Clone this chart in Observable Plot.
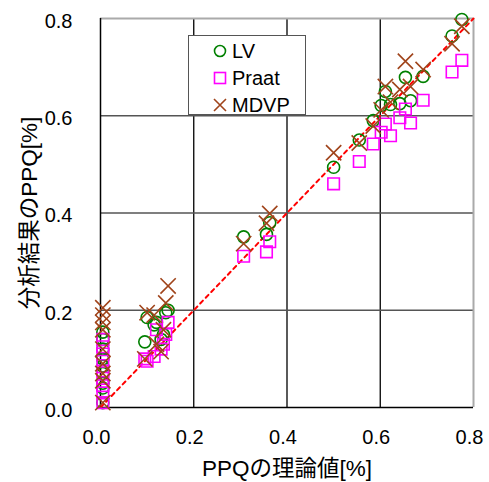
<!DOCTYPE html>
<html>
<head>
<meta charset="utf-8">
<script src="https://cdn.jsdelivr.net/npm/d3@7"></script>
<script src="https://cdn.jsdelivr.net/npm/@observablehq/plot@0.6"></script>
<style>
  html, body { margin: 0; padding: 0; background: #fff; }
  #wrap { position: relative; width: 489px; height: 482px; font-family: "Liberation Sans", "Noto Sans CJK JP", sans-serif; }
  #legend { position: absolute; left: 188px; top: 35px; width: 118px; height: 80px; border: 1px solid #555; background: #fff; box-sizing: border-box; font-size: 20px; }
  #legend .row { position: absolute; left: 24px; height: 26px; display: flex; align-items: center; }
  #legend svg { margin-right: 5px; }
</style>
</head>
<body>
<div id="wrap"><div id="chart"></div><div id="legend"></div></div>
<script>
// Theoretical PPQ [%] per sample
const xTheory = [
  0.005, 0.005, 0.005, 0.005, 0.005, 0.005, 0.005, 0.005, 0.005,
  0.095, 0.10, 0.115, 0.12, 0.13, 0.135, 0.14, 0.145,
  0.307, 0.356, 0.363,
  0.50, 0.555, 0.585, 0.602, 0.611, 0.622, 0.642, 0.654, 0.665, 0.692, 0.754, 0.775
];
// Analysed PPQ [%] per method
const lv = [
  0.155, 0.14, 0.12, 0.10, 0.085, 0.07, 0.05, 0.04, 0.01,
  0.135, 0.185, 0.17, 0.175, 0.14, 0.15, 0.195, 0.20,
  0.351, 0.356, 0.38,
  0.494, 0.55, 0.59, 0.621, 0.65, 0.623, 0.625, 0.679, 0.631, 0.681, 0.764, 0.798
];
const praat = [
  0.14, 0.125, 0.11, 0.095, 0.075, 0.06, 0.045, 0.03, 0.01,
  0.10, 0.095, 0.105, 0.16, 0.12, 0.13, 0.15, 0.175,
  0.311, 0.32, 0.341,
  0.46, 0.506, 0.542, 0.566, 0.583, 0.559, 0.596, 0.614, 0.585, 0.632, 0.69, 0.714
];
const mdvp = [
  0.205, 0.19, 0.175, 0.16, 0.12, 0.09, 0.07, 0.055, 0.01,
  0.10, 0.195, 0.19, 0.13, 0.115, 0.16, 0.215, 0.25,
  0.337, 0.379, 0.399,
  0.524, 0.544, 0.579, 0.612, 0.66, 0.628, 0.654, 0.712, 0.66, 0.695, 0.748, 0.784
];
const series = ["LV", "Praat", "MDVP"];
const gridTicks = [0.2, 0.4, 0.6];
const axisTicks = [0, 0.2, 0.4, 0.6, 0.8];
const diag = [0, 0.8];

const colors = {LV: "#008000", Praat: "#ff00ff", MDVP: "#a0441b"};
const valuesBy = {LV: lv, Praat: praat, MDVP: mdvp};
const data = series.flatMap(s => xTheory.map((x, i) => ({series: s, x, y: valuesBy[s][i]})));

const chart = Plot.plot({
  width: 489,
  height: 482,
  marginLeft: 100,
  marginRight: 16,
  marginTop: 18,
  marginBottom: 75,
  style: {fontFamily: '"Liberation Sans", "Noto Sans CJK JP", sans-serif', fontSize: "20px", color: "#000", background: "#fff"},
  x: {domain: [0, 0.8]},
  y: {domain: [0, 0.8]},
  marks: [
    Plot.ruleX(gridTicks, {stroke: "#000", strokeWidth: 1.3}),
    Plot.ruleY(gridTicks, {stroke: "#555", strokeWidth: 1.3}),
    Plot.ruleY([0.8], {stroke: "#aaa", strokeWidth: 2}),
    Plot.ruleX([0.8], {stroke: "#aaa", strokeWidth: 2}),
    Plot.ruleY([0], {stroke: "#000", strokeWidth: 1.5}),
    Plot.ruleX([0], {stroke: "#000", strokeWidth: 1.5}),
    Plot.line(diag, {x: d => d, y: d => d, stroke: "#ff0000", strokeWidth: 2, strokeDasharray: "4,4"}),
    Plot.dot(data.filter(d => d.series === "LV"), {x: "x", y: "y", r: 6, stroke: colors.LV, strokeWidth: 1.6, fill: "none"}),
    Plot.dot(data.filter(d => d.series === "Praat"), {x: "x", y: "y", r: 6.5, symbol: "square", stroke: colors.Praat, strokeWidth: 1.6, fill: "none"}),
    Plot.dot(data.filter(d => d.series === "MDVP"), {x: "x", y: "y", r: 7, symbol: "times", stroke: colors.MDVP, strokeWidth: 1.6, fill: "none"}),
    Plot.axisX(axisTicks, {tickSize: 0, tickPadding: 22, tickFormat: d3.format(".1f"), dx: -4, label: null}),
    Plot.axisY(axisTicks, {tickSize: 0, tickPadding: 28, tickFormat: d3.format(".1f"), dy: 3, label: null}),
    Plot.axisX([], {tickSize: 0, fontSize: 22.5, label: "PPQの理論値[%]", labelAnchor: "center", labelOffset: 68, labelArrow: false}),
    Plot.axisY([], {tickSize: 0, fontSize: 22.5, label: "分析結果のPPQ[%]", labelAnchor: "center", labelOffset: 79, labelArrow: false})
  ]
});
document.getElementById("chart").appendChild(chart);

// Legend overlay
const legend = document.getElementById("legend");
const sym = {
  LV: '<circle cx="7" cy="7" r="5.5" fill="none" stroke="#008000" stroke-width="1.6"/>',
  Praat: '<rect x="1.5" y="1.5" width="11" height="11" fill="none" stroke="#ff00ff" stroke-width="1.6"/>',
  MDVP: '<path d="M1,1L13,13M13,1L1,13" stroke="#a0441b" stroke-width="1.6"/>'
};
series.forEach((s, i) => {
  const row = document.createElement("div");
  row.className = "row";
  row.style.top = (2 + i * 27) + "px";
  row.innerHTML = `<svg width="14" height="14">${sym[s]}</svg><span>${s}</span>`;
  legend.appendChild(row);
});
</script>
</body>
</html>
